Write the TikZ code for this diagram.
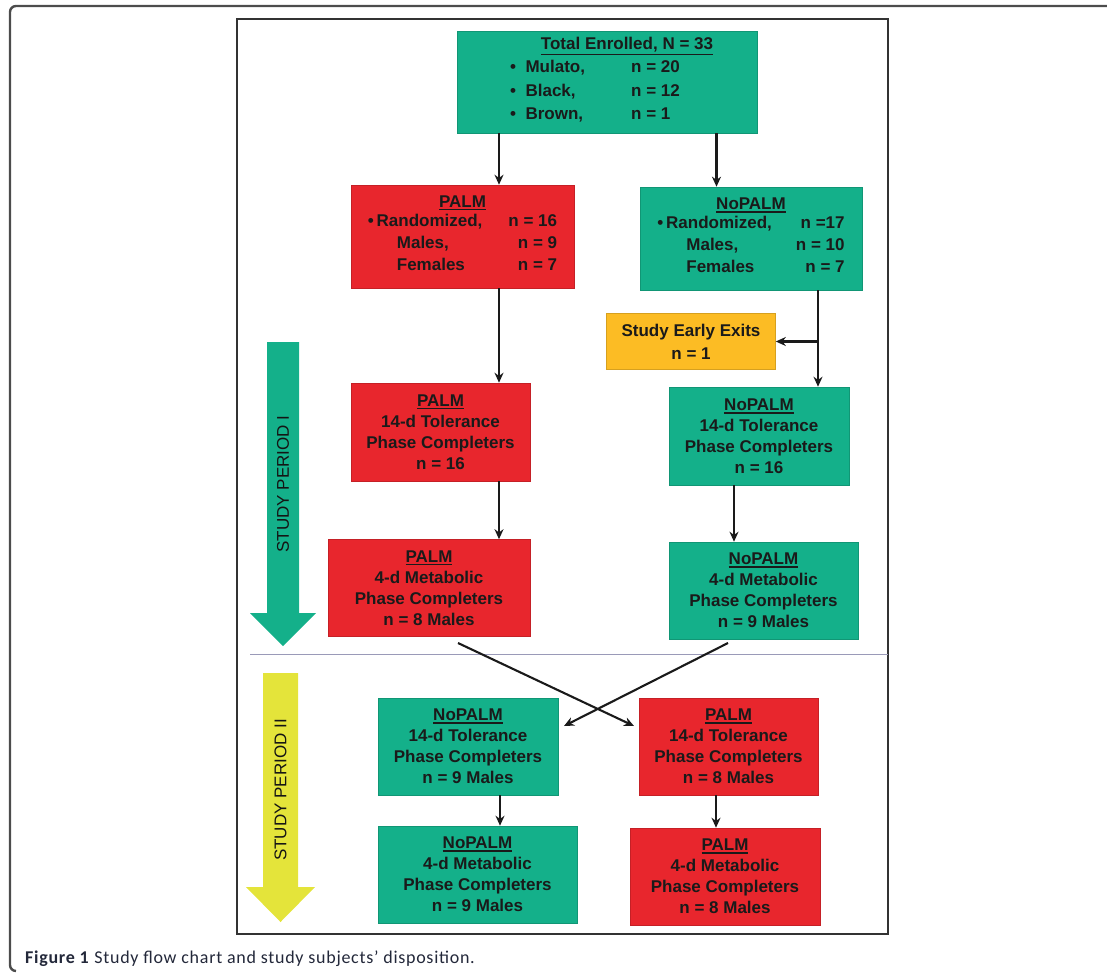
\documentclass[tikz,border=0pt]{standalone}
\usepackage{fontspec}
\setmainfont{Liberation Sans}
\newfontfamily\capfont[LetterSpace=4]{Carlito}
\usetikzlibrary{arrows.meta}
\definecolor{gbox}{HTML}{14B08A}
\definecolor{rbox}{HTML}{E8262D}
\definecolor{obox}{HTML}{FCBC24}
\definecolor{yarr}{HTML}{E4E43A}
\definecolor{ink}{HTML}{1A1A1A}
\definecolor{sepline}{HTML}{9A9AB8}
\definecolor{capink}{HTML}{23283A}
\newcommand\ulbox[1]{\vtop{\hbox{#1}\kern1.4pt\hrule height 1.8pt}}
\newcommand\bxfont{\fontsize{17}{21}\selectfont\bfseries}
\begin{document}
\begin{tikzpicture}[x=1pt,y=-1pt,
  box/.style={inner sep=0pt, align=center, font=\bxfont, text=ink,
              draw=#1!85!black, line width=0.6pt, fill=#1},
  arr/.style={draw=ink, line width=2.1pt, -{Stealth[length=10pt,width=9pt]}},
  period/.style={rotate=90, font=\fontsize{17}{20}\selectfont, text=black!92},
  frameline/.style={draw=black!70, line width=2.4pt},
  innerframe/.style={draw=black!80, line width=1.4pt}]
\useasboundingbox (0,0) rectangle (1107,974);

% frames
\draw[frameline, rounded corners=6pt] (1110,6) -- (10,6) -- (10,971) -- (16,971);
\draw[innerframe] (237,19) rectangle (888,934);
\draw[sepline, line width=1pt] (250,654) -- (888,654);

% period arrows
\fill[gbox] (267,342) -- (299,342) -- (299,613) -- (316,613) -- (283,646) -- (250,613) -- (267,613) -- cycle;
\node[period] (per1) at (283,484) {STUDY PERIOD I};
\fill[yarr] (263,673) -- (298,673) -- (298,887) -- (315,887) -- (280.5,922) -- (246,887) -- (263,887) -- cycle;
\node[period] (per2) at (280.5,790) {STUDY PERIOD II};

% boxes
\node[box=gbox, minimum width=300pt, minimum height=102pt, font=\fontsize{17}{23.5}\selectfont\bfseries] (total) at (607,82)
 {\hspace*{40pt}\ulbox{Total Enrolled, N = 33}\\
  \begin{tabular}{@{}p{121pt}@{}l@{}}
  \textbullet\ \ Mulato, & n = 20\\
  \textbullet\ \ Black, & n = 12\\
  \textbullet\ \ Brown, & n = 1
  \end{tabular}\rule{24pt}{0pt}};

\node[box=rbox, minimum width=223pt, minimum height=103pt, font=\fontsize{17}{22}\selectfont\bfseries] (palmR) at (462.5,236.5)
 {\ulbox{PALM}\\
  \begin{tabular}{@{}l@{\hspace{26pt}}r@{}}
  \textbullet\,Randomized, & n = 16\\
  \hspace*{29pt}Males, & n = 9\\
  \hspace*{29pt}Females & n = 7
  \end{tabular}};

\node[box=gbox, minimum width=222pt, minimum height=103pt, font=\fontsize{17}{22}\selectfont\bfseries] (nopR) at (751,238.5)
 {\ulbox{NoPALM}\\
  \begin{tabular}{@{}l@{\hspace{24pt}}r@{}}
  \textbullet\,Randomized, & n =17\\
  \hspace*{29pt}Males, & n = 10\\
  \hspace*{29pt}Females & n = 7
  \end{tabular}};

\node[box=obox, minimum width=169pt, minimum height=56pt, font=\fontsize{17}{23}\selectfont\bfseries] (exits) at (691,341.5)
 {Study Early Exits\\n = 1};

\node[box=rbox, minimum width=179pt, minimum height=98pt] (palm14) at (440.5,432)
 {\ulbox{PALM}\\14-d Tolerance\\Phase Completers\\n = 16};
\node[box=gbox, minimum width=180pt, minimum height=98pt] (nop14) at (759,436)
 {\ulbox{NoPALM}\\14-d Tolerance\\Phase Completers\\n = 16};
\node[box=rbox, minimum width=202pt, minimum height=97pt] (palm4) at (429,588)
 {\ulbox{PALM}\\4-d Metabolic\\Phase Completers\\n = 8 Males};
\node[box=gbox, minimum width=189pt, minimum height=97pt] (nop4) at (763.5,590.5)
 {\ulbox{NoPALM}\\4-d Metabolic\\Phase Completers\\n = 9 Males};

\node[box=gbox, minimum width=180pt, minimum height=97pt] (nop14b) at (468,746.5)
 {\ulbox{NoPALM}\\14-d Tolerance\\Phase Completers\\n = 9 Males};
\node[box=rbox, minimum width=179pt, minimum height=97pt] (palm14b) at (728.5,746.5)
 {\ulbox{PALM}\\14-d Tolerance\\Phase Completers\\n = 8 Males};
\node[box=gbox, minimum width=199pt, minimum height=97pt] (nop4b) at (477.5,874.5)
 {\ulbox{NoPALM}\\4-d Metabolic\\Phase Completers\\n = 9 Males};
\node[box=rbox, minimum width=190pt, minimum height=97pt] (palm4b) at (725,876.5)
 {\ulbox{PALM}\\4-d Metabolic\\Phase Completers\\n = 8 Males};

% connector x positions
\coordinate (xa) at (499,0);
\coordinate (xb) at (716.5,0);
\coordinate (xc) at (499,0);
\coordinate (xd) at (818,0);
\coordinate (xe) at (499,0);
\coordinate (xf) at (734,0);
\coordinate (xg) at (500,0);
\coordinate (xh) at (716,0);
\coordinate (s1) at (458,643);
\coordinate (t1) at (634,726);
\coordinate (s2) at (728,643);
\coordinate (t2) at (564,726);

\draw[arr] (total.south -| xa) -- (palmR.north -| xa);
\draw[arr] (total.south -| xb) -- (nopR.north -| xb);
\draw[arr] (palmR.south -| xc) -- (palm14.north -| xc);
\draw[arr] (nopR.south -| xd) -- (nop14.north -| xd);
\draw[arr] (xd |- exits.east) -- (exits.east);
\draw[arr] (palm14.south -| xe) -- (palm4.north -| xe);
\draw[arr] (nop14.south -| xf) -- (nop4.north -| xf);
\draw[arr] (s1) -- (t1);
\draw[arr] (s2) -- (t2);
\draw[arr] (nop14b.south -| xg) -- (nop4b.north -| xg);
\draw[arr] (palm14b.south -| xh) -- (palm4b.north -| xh);

% caption
\node[anchor=base west, inner sep=0pt, text=capink, font=\capfont\fontsize{18}{21}\selectfont] (cap) at (25,963)
 {\textbf{Figure 1} Study flow chart and study subjects’ disposition.};
\end{tikzpicture}
\end{document}
